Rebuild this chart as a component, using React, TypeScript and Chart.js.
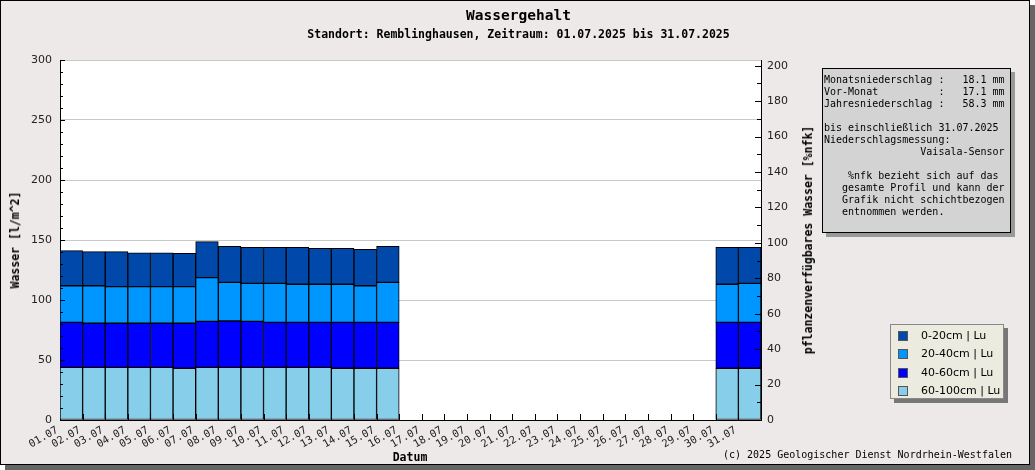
import { useEffect, useRef } from "react";
import { Chart, registerables } from "chart.js";

Chart.register(...registerables);

const days = [
  "01.07", "02.07", "03.07", "04.07", "05.07", "06.07", "07.07", "08.07",
  "09.07", "10.07", "11.07", "12.07", "13.07", "14.07", "15.07", "16.07",
  "17.07", "18.07", "19.07", "20.07", "21.07", "22.07", "23.07", "24.07",
  "25.07", "26.07", "27.07", "28.07", "29.07", "30.07", "31.07",
];

// Wasser [l/m^2] je Schicht, Tage 16.-29.07. ohne Messung
const layer0to20 = [
  29.2, 28.4, 29.2, 28.3, 28.3, 27.8, 30.0, 30.0, 30.0, 30.0, 30.8, 30.0, 30.0, 30.3, 30.0,
  null, null, null, null, null, null, null, null, null, null, null, null, null, null,
  30.8, 30.0,
];
const layer20to40 = [
  30.5, 31.3, 30.5, 30.5, 30.5, 30.5, 36.4, 32.2, 31.7, 32.5, 31.7, 31.7, 31.7, 30.5, 33.3,
  null, null, null, null, null, null, null, null, null, null, null, null, null, null,
  31.7, 32.5,
];
const layer40to60 = [
  37.5, 36.7, 36.7, 36.7, 36.7, 37.5, 38.3, 38.6, 38.3, 37.5, 37.5, 37.5, 38.3, 38.3, 38.3,
  null, null, null, null, null, null, null, null, null, null, null, null, null, null,
  38.3, 38.3,
];
const layer60to100 = [
  43.9, 43.9, 43.9, 43.9, 43.9, 43.1, 43.9, 43.9, 43.9, 43.9, 43.9, 43.9, 43.1, 43.1, 43.1,
  null, null, null, null, null, null, null, null, null, null, null, null, null, null,
  43.1, 43.1,
];

const leftTicks = [0, 50, 100, 150, 200, 250, 300];
const rightTicks = [0, 20, 40, 60, 80, 100, 120, 140, 160, 180, 200];

const layerNames = ["0-20cm | Lu", "20-40cm | Lu", "40-60cm | Lu", "60-100cm | Lu"];
const layerColors = ["#0048aa", "#0096ff", "#0000ff", "#87ceeb"];

const infoLines = [
  "Monatsniederschlag :   18.1 mm",
  "Vor-Monat          :   17.1 mm",
  "Jahresniederschlag :   58.3 mm",
  "",
  "bis einschließlich 31.07.2025",
  "Niederschlagsmessung:",
  "                Vaisala-Sensor",
  "",
  "    %nfk bezieht sich auf das",
  "   gesamte Profil und kann der",
  "   Grafik nicht schichtbezogen",
  "   entnommen werden.",
];

const MONO = "'DejaVu Sans Mono', monospace";
const SANS = "'DejaVu Sans', sans-serif";

const plotFrame = {
  id: "plotFrame",
  beforeDraw(chart: any) {
    const { ctx, chartArea: a } = chart;
    ctx.save();
    ctx.fillStyle = "#ffffff";
    ctx.fillRect(a.left, a.top, a.right - a.left, a.bottom - a.top);
    ctx.restore();
  },
  afterDraw(chart: any) {
    const { ctx, chartArea: a, scales } = chart;
    ctx.save();
    ctx.strokeStyle = "#000";
    ctx.lineWidth = 1;
    ctx.beginPath();
    for (let v = 0; v <= 300; v += 10) {
      const y = Math.round(scales.y.getPixelForValue(v)) + 0.5;
      const len = v % 50 === 0 ? 5 : 3;
      ctx.moveTo(a.left, y);
      ctx.lineTo(a.left + len, y);
    }
    for (let v = 0; v <= 200; v += 10) {
      const y = Math.round(scales.y1.getPixelForValue(v)) + 0.5;
      const len = v % 20 === 0 ? 6 : 4;
      ctx.moveTo(a.right, y);
      ctx.lineTo(a.right - len, y);
    }
    const w = (a.right - a.left) / days.length;
    for (let k = 1; k < days.length; k++) {
      const x = Math.round(a.left + k * w) + 0.5;
      ctx.moveTo(x, a.bottom);
      ctx.lineTo(x, a.bottom - 6);
    }
    ctx.stroke();
    ctx.restore();
  },
};

export default function App() {
  const chartRef = useRef<HTMLCanvasElement>(null);
  const chartInstance = useRef<Chart | null>(null);

  useEffect(() => {
    if (!chartRef.current) return;
    if (chartInstance.current) chartInstance.current.destroy();
    const ctx = chartRef.current.getContext("2d");
    if (!ctx) return;

    const series = [layer60to100, layer40to60, layer20to40, layer0to20];
    const idx = [3, 2, 1, 0];

    chartInstance.current = new Chart(ctx, {
      type: "bar",
      data: {
        labels: days,
        datasets: series.map((d, i) => ({
          label: layerNames[idx[i]],
          data: d,
          backgroundColor: layerColors[idx[i]],
          borderColor: "#000",
          borderWidth: 1,
          borderSkipped: false,
          barPercentage: 1,
          categoryPercentage: 1,
          yAxisID: "y",
        })),
      },
      options: {
        responsive: true,
        maintainAspectRatio: false,
        animation: false,
        layout: { padding: { top: 60, left: 0, right: 214, bottom: 0 } },
        plugins: {
          legend: { display: false },
          tooltip: { enabled: false },
        },
        scales: {
          x: {
            stacked: true,
            offset: true,
            grid: { display: false, drawTicks: false },
            border: { display: true, color: "#000", width: 1 },
            ticks: {
              autoSkip: false,
              maxRotation: 30,
              minRotation: 30,
              padding: 4,
              labelOffset: -14,
              color: "#222",
              font: { family: MONO, size: 10.5 },
            },
            afterFit: (s: any) => {
              s.height = 50;
            },
          },
          y: {
            stacked: true,
            position: "left",
            min: 0,
            max: 300,
            grid: { color: "#c8c8c8", drawTicks: false },
            border: { display: true, color: "#000", width: 1 },
            ticks: {
              padding: 8,
              color: "#222",
              font: { family: SANS, size: 11 },
            },
            afterBuildTicks: (s: any) => {
              s.ticks = leftTicks.map((v) => ({ value: v }));
            },
            afterFit: (s: any) => {
              s.width = 60;
            },
          },
          y1: {
            position: "right",
            display: true,
            min: 0,
            max: 203.2,
            grid: { display: false, drawTicks: false },
            border: { display: true, color: "#000", width: 1 },
            ticks: {
              padding: 6,
              color: "#222",
              font: { family: SANS, size: 11 },
            },
            afterBuildTicks: (s: any) => {
              s.ticks = rightTicks.map((v) => ({ value: v }));
            },
            afterFit: (s: any) => {
              s.width = 60;
            },
          },
        },
      },
      plugins: [plotFrame],
    } as any);

    return () => {
      if (chartInstance.current) {
        chartInstance.current.destroy();
        chartInstance.current = null;
      }
    };
  }, []);

  const abs = (o: any) => ({ position: "absolute" as const, whiteSpace: "pre" as const, ...o });

  return (
    <div style={{ position: "absolute", left: 0, top: 0, width: 1035, height: 470, overflow: "hidden" }}>
      <div
        style={abs({
          left: 0,
          top: 0,
          width: 1030,
          height: 465,
          boxSizing: "border-box",
          border: "1px solid #000",
          background: "#ece9e8",
          boxShadow: "5px 5px 0 #666",
        })}
      />
      <div style={{ position: "absolute", left: 0, top: 0, width: 1035, height: 470 }}>
        <canvas ref={chartRef}></canvas>
      </div>
      <div style={abs({ left: 0, width: 1037, top: 7, textAlign: "center", font: `bold 14.5px/16px ${MONO}`, color: "#000" })}>
        Wassergehalt
      </div>
      <div style={abs({ left: 0, width: 1037, top: 27, textAlign: "center", font: `bold 11.5px/14px ${MONO}`, color: "#000" })}>
        Standort: Remblinghausen, Zeitraum: 01.07.2025 bis 31.07.2025
      </div>
      <div
        style={abs({
          left: 15,
          top: 240,
          transform: "translate(-50%, -50%) rotate(-90deg)",
          font: `bold 11.5px/14px ${MONO}`,
          color: "#000",
        })}
      >
        Wasser [l/m^2]
      </div>
      <div
        style={abs({
          left: 808,
          top: 240,
          transform: "translate(-50%, -50%) rotate(-90deg)",
          font: `bold 11.5px/14px ${MONO}`,
          color: "#000",
        })}
      >
        pflanzenverfügbares Wasser [%nfk]
      </div>
      <div style={abs({ left: 410, top: 457, transform: "translate(-50%, -50%)", font: `bold 11.5px/14px ${MONO}`, color: "#000" })}>
        Datum
      </div>
      <div style={abs({ left: 723, top: 449, font: `10px/12px ${MONO}`, color: "#000" })}>
        (c) 2025 Geologischer Dienst Nordrhein-Westfalen
      </div>
      <div
        style={abs({
          left: 822,
          top: 68,
          width: 189,
          height: 165,
          boxSizing: "border-box",
          border: "1px solid #000",
          background: "#d3d3d3",
          boxShadow: "4px 4px 0 #999",
          padding: "5px 0 0 1px",
          font: `10px/12px ${MONO}`,
          color: "#000",
        })}
      >
        {infoLines.map((l, i) => (
          <div key={i} style={{ height: 12 }}>
            {l}
          </div>
        ))}
      </div>
      <div
        style={abs({
          left: 890,
          top: 324,
          width: 114,
          height: 75,
          boxSizing: "border-box",
          border: "1px solid #888",
          background: "#ecebdf",
          boxShadow: "4px 4px 0 #777",
        })}
      >
        {layerNames.map((n, i) => (
          <div key={n} style={{ position: "absolute", left: 7, top: 4 + i * 18.4, height: 14, display: "flex", alignItems: "center" }}>
            <span
              style={{
                display: "inline-block",
                width: 10,
                height: 10,
                boxSizing: "border-box",
                border: "1px solid #555",
                background: layerColors[i],
              }}
            />
            <span style={{ marginLeft: 13, font: `11px/14px ${SANS}`, color: "#000" }}>{n}</span>
          </div>
        ))}
      </div>
    </div>
  );
}
